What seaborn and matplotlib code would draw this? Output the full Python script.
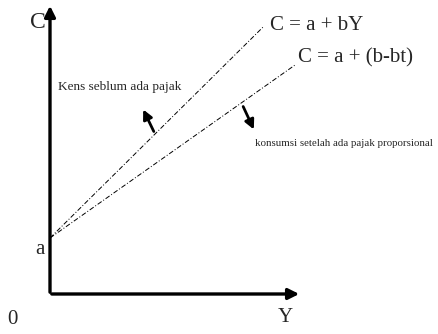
import numpy as np
import pandas as pd
import seaborn as sns
import matplotlib.pyplot as plt

# diagram values (pixel-like units, origin at the axes corner)
a = 56
income = [0, 213]          # Y range of line before tax
income_tax = [0, 245]      # Y range of line after tax
b = 0.99                   # slope before tax
b_tax = 0.706              # slope after proportional tax

before = pd.DataFrame({"Y": income, "C": [a + b * y for y in income]})
after = pd.DataFrame({"Y": income_tax, "C": [a + b_tax * y for y in income_tax]})

sns.set_style("white")
plt.rcParams['font.family'] = ['Liberation Serif', 'DejaVu Serif']

fig = plt.figure(figsize=(4.39, 3.34), dpi=100)
ax = fig.add_axes([0, 0, 1, 1])
ax.set_xlim(-50, 389)
ax.set_ylim(-40, 294)
ax.axis('off')

sns.lineplot(data=before, x="Y", y="C", ax=ax, color="black", lw=0.7,
             linestyle=(0, (5, 2, 1, 2)))
sns.lineplot(data=after, x="Y", y="C", ax=ax, color="black", lw=0.7,
             linestyle=(0, (5, 2, 1, 2)))

# axes with arrow heads
ax.annotate("", xy=(0, 291), xytext=(0, -1),
            arrowprops=dict(arrowstyle='-|>', lw=2.4, color='black', mutation_scale=16))
ax.annotate("", xy=(252, 0), xytext=(-1, 0),
            arrowprops=dict(arrowstyle='-|>', lw=2.4, color='black', mutation_scale=16))

ax.text(-12, 272, "C", fontsize=17, ha='center', va='center')
ax.text(-10, 44, "a", fontsize=15, ha='center', va='center')
ax.text(-38, -26, "0", fontsize=15, ha='center', va='center')
ax.text(235, -24, "Y", fontsize=15, ha='center', va='center')

ax.text(220, 269, "C = a + bY", fontsize=15, ha='left', va='center')
ax.text(248, 236, "C = a + (b-bt)", fontsize=15, ha='left', va='center')
ax.text(8, 207, "Kens seblum ada pajak", fontsize=9.5, ha='left', va='center')
ax.text(205, 151, "konsumsi setelah ada pajak proporsional", fontsize=7.8,
        ha='left', va='center')

# arrows showing shifts
ax.annotate("", xy=(92, 187), xytext=(105, 160),
            arrowprops=dict(arrowstyle='-|>', lw=2, color='black', mutation_scale=14))
ax.annotate("", xy=(205, 162), xytext=(192, 190),
            arrowprops=dict(arrowstyle='-|>', lw=2, color='black', mutation_scale=14))

plt.savefig("out.png", dpi=100)
